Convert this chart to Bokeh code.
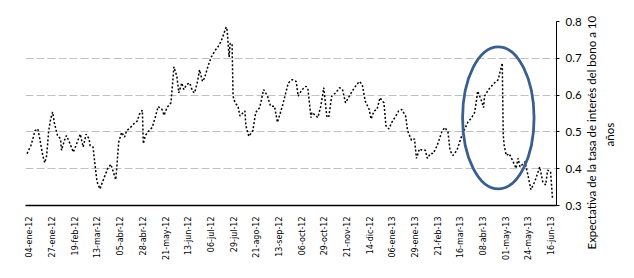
import math
from bokeh.plotting import figure
from bokeh.layouts import row
from bokeh.models import Range1d, FixedTicker, PrintfTickFormatter, ColumnDataSource, LinearAxis
from bokeh.embed import file_html
from bokeh.resources import INLINE

# Day offsets counted from 04-ene-2012 (day 0)
START_DATE = "2012-01-04"
days = [-3, 1, 3, 5, 8, 10, 13, 15, 17, 19, 21, 23, 25, 28, 31, 32, 35, 37, 40, 44,
        48, 51, 54, 57, 60, 61, 64, 66, 68, 71, 75, 79, 82, 84, 87, 88, 90, 93, 96, 98,
        102, 105, 109, 111, 114, 115, 117, 120, 124, 127, 130, 134, 136, 139, 143, 145,
        146, 149, 151, 154, 156, 159, 162, 165, 167, 170, 172, 175, 177, 181, 184, 188,
        192, 195, 199, 200, 202, 203, 205, 206, 208, 211, 213, 218, 219, 222, 226, 229,
        233, 237, 241, 244, 248, 251, 256, 262, 266, 270, 272, 276, 280, 282, 285, 286,
        292, 295, 298, 301, 303, 306, 310, 314, 317, 320, 323, 329, 334, 337, 340, 344,
        346, 349, 352, 355, 359, 361, 364, 367, 371, 374, 377, 381, 383, 387, 390, 392,
        395, 398, 401, 403, 406, 409, 413, 418, 421, 424, 426, 429, 433, 438, 441, 444,
        448, 451, 453, 454, 458, 460, 461, 465, 468, 471, 475, 476, 479, 480, 481, 483,
        486, 490, 493, 495, 497, 502, 505, 508, 512, 517, 520, 523, 525, 528, 530]
rate = [0.441, 0.463, 0.481, 0.503, 0.508, 0.481, 0.436, 0.416, 0.436, 0.503, 0.535,
        0.554, 0.521, 0.490, 0.481, 0.450, 0.477, 0.490, 0.472, 0.445, 0.472, 0.494,
        0.459, 0.494, 0.481, 0.463, 0.459, 0.410, 0.365, 0.345, 0.374, 0.401, 0.412,
        0.396, 0.370, 0.401, 0.472, 0.499, 0.486, 0.503, 0.512, 0.521, 0.530, 0.548,
        0.559, 0.468, 0.490, 0.501, 0.512, 0.539, 0.569, 0.561, 0.545, 0.566, 0.579,
        0.642, 0.677, 0.651, 0.606, 0.633, 0.615, 0.629, 0.633, 0.610, 0.606, 0.637,
        0.669, 0.637, 0.646, 0.682, 0.704, 0.722, 0.736, 0.754, 0.785, 0.776, 0.704,
        0.740, 0.740, 0.597, 0.579, 0.570, 0.543, 0.557, 0.517, 0.488, 0.503, 0.553,
        0.566, 0.615, 0.597, 0.570, 0.570, 0.526, 0.570, 0.633, 0.642, 0.637, 0.597,
        0.615, 0.624, 0.615, 0.539, 0.553, 0.539, 0.570, 0.620, 0.543, 0.539, 0.597,
        0.606, 0.620, 0.615, 0.579, 0.593, 0.620, 0.637, 0.629, 0.584, 0.561, 0.535,
        0.557, 0.561, 0.593, 0.579, 0.517, 0.508, 0.526, 0.543, 0.557, 0.561, 0.543,
        0.503, 0.477, 0.481, 0.428, 0.454, 0.450, 0.450, 0.428, 0.441, 0.441, 0.463,
        0.503, 0.512, 0.499, 0.450, 0.436, 0.450, 0.490, 0.508, 0.526, 0.539, 0.553,
        0.588, 0.611, 0.584, 0.566, 0.597, 0.615, 0.624, 0.633, 0.642, 0.655, 0.687,
        0.490, 0.463, 0.436, 0.441, 0.419, 0.401, 0.428, 0.405, 0.419, 0.383, 0.343,
        0.365, 0.405, 0.365, 0.356, 0.396, 0.392, 0.316]

tick_days = [0, 23, 46, 69, 92, 115, 138, 161, 184, 207, 230, 253, 276, 299, 322,
             345, 368, 391, 414, 437, 460, 483, 506, 529]
tick_labels = ["04-ene-12", "27-ene-12", "19-feb-12", "13-mar-12", "05-abr-12",
               "28-abr-12", "21-may-12", "13-jun-12", "06-jul-12", "29-jul-12",
               "21-ago-12", "13-sep-12", "06-oct-12", "29-oct-12", "21-nov-12",
               "14-dic-12", "06-ene-13", "29-ene-13", "21-feb-13", "16-mar-13",
               "08-abr-13", "01-may-13", "24-may-13", "16-jun-13"]
y_ticks = [0.3, 0.4, 0.5, 0.6, 0.7, 0.8]
axis_title_1 = "Expectativa de la tasa de interés del bono a 10"
axis_title_2 = "años"

# highlight ellipse (April-May 2013)
ell_center_day = 475
ell_center_val = 0.538
ell_width_days = 72.5
ell_height_val = 0.386

TOP, BOTTOM = 21, 54

p = figure(width=584, height=262, output_backend="svg", toolbar_location=None,
           x_range=Range1d(-4.5, 534), y_range=Range1d(0.3, 0.8),
           y_axis_location="right",
           min_border_left=25, min_border_right=25, min_border_top=TOP, min_border_bottom=BOTTOM)
p.outline_line_color = None
p.background_fill_color = "white"
p.border_fill_color = "white"

p.xgrid.visible = False
p.ygrid.ticker = FixedTicker(ticks=y_ticks)
p.ygrid.grid_line_color = "#c0c0c0"
p.ygrid.grid_line_dash = "8 3"
p.ygrid.grid_line_width = 1

src = ColumnDataSource(dict(x=days, y=rate))
p.line("x", "y", source=src, line_color="black", line_width=1.5, line_dash="2 2")

p.ellipse(x=[ell_center_day], y=[ell_center_val], width=[ell_width_days],
          height=[ell_height_val], fill_color=None, line_color="#3a5f8e", line_width=2.8)

xa = p.xaxis[0]
xa.ticker = FixedTicker(ticks=tick_days)
xa.major_label_overrides = {d: lab for d, lab in zip(tick_days, tick_labels)}
xa.major_label_orientation = math.pi / 2
xa.major_label_text_font = "DejaVu Sans"
xa.major_label_text_font_size = "8px"
xa.major_label_text_color = "black"
xa.major_tick_line_color = None
xa.minor_tick_line_color = None
xa.axis_line_color = "black"
xa.axis_line_width = 1.5
xa.major_label_standoff = 5

ya = p.yaxis[0]
ya.ticker = FixedTicker(ticks=y_ticks)
ya.formatter = PrintfTickFormatter(format="%.1f")
ya.major_label_text_font = "Lato"
ya.major_label_text_font_size = "11.5px"
ya.major_label_text_color = "black"
ya.axis_line_color = "black"
ya.axis_line_width = 1
ya.major_tick_line_color = "black"
ya.major_tick_out = 3
ya.major_tick_in = 0
ya.minor_tick_line_color = None
ya.major_label_standoff = 6

# Narrow strip to the right whose left-side axes carry the rotated axis title.
# Same top/bottom borders as the chart, so the row keeps the chart frame intact.
FRAME_H = 262 - TOP - BOTTOM
t = figure(width=40, height=262, output_backend="svg", toolbar_location=None,
           x_range=Range1d(0, 1), y_range=Range1d(0, FRAME_H),
           x_axis_location=None, y_axis_location="left",
           min_border_left=39, min_border_right=0, min_border_top=TOP, min_border_bottom=BOTTOM)
t.outline_line_color = None
t.background_fill_color = "white"
t.border_fill_color = "white"
t.grid.visible = False


def style_title_axis(ax, pos, text, standoff):
    ax.ticker = FixedTicker(ticks=[pos])
    ax.major_label_overrides = {pos: text}
    ax.major_label_orientation = "vertical"
    ax.major_label_text_font = "Lato"
    ax.major_label_text_font_size = "11.5px"
    ax.major_label_text_color = "black"
    ax.major_label_standoff = standoff
    ax.axis_line_color = None
    ax.major_tick_line_color = None
    ax.minor_tick_line_color = None
    ax.major_tick_out = 0
    ax.major_tick_in = 0


# line 2 ("años") sits nearest the strip frame, line 1 further out
style_title_axis(t.yaxis[0], 72, axis_title_2, 8)
outer = LinearAxis()
style_title_axis(outer, 74, axis_title_1, 2)
t.add_layout(outer, "left")

layout = row(p, t, spacing=0)
open("out.html", "w").write(file_html(layout, INLINE))
